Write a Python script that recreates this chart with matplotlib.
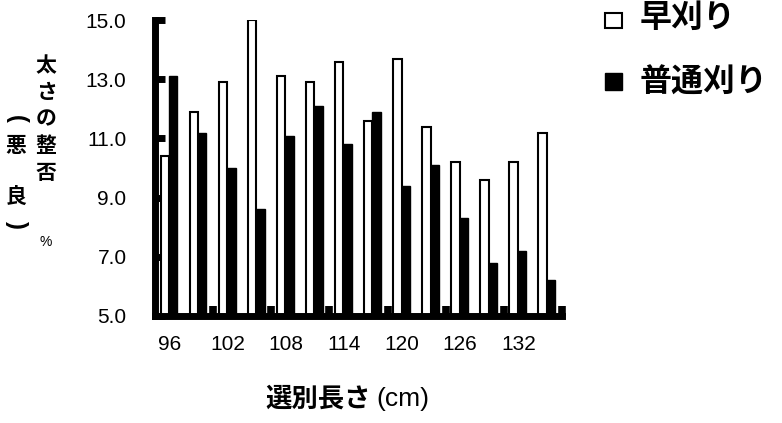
import numpy as np
import matplotlib
matplotlib.use("Agg")
import matplotlib.pyplot as plt
from matplotlib.patches import Rectangle

# Data
lengths = [96, 99, 102, 105, 108, 111, 114, 117, 120, 123, 126, 129, 132, 135]
early = [10.4, 11.9, 12.9, 15.0, 13.1, 12.9, 13.6, 11.6, 13.7, 11.4, 10.2, 9.6, 10.2, 11.2]
normal = [13.1, 11.2, 10.0, 8.6, 11.1, 12.1, 10.8, 11.9, 9.4, 10.1, 8.3, 6.8, 7.2, 6.2]
yticks = [5, 7, 9, 11, 13, 15]

W, H = 782, 423
fig = plt.figure(figsize=(W / 100, H / 100), dpi=100)
# plot area in pixels: x 155..562, y 20.3..315.8
ax = fig.add_axes([155 / W, (H - 315.8) / H, (562 - 155) / W, (315.8 - 20.3) / H])

jp = "Noto Sans CJK JP"
num = "Liberation Sans"

x = np.arange(len(lengths))
bw = 0.29
ax.bar(x - bw / 2 - 0.02, early, bw, color="white", edgecolor="black", linewidth=1.5, zorder=2)
ax.bar(x + bw / 2 - 0.02, normal, bw, color="black", edgecolor="black", linewidth=1.0, zorder=2)

ax.set_xlim(-0.5, len(lengths) - 0.5)
ax.set_ylim(5, 15)

for s in ["top", "right"]:
    ax.spines[s].set_visible(False)
for s in ["left", "bottom"]:
    ax.spines[s].set_linewidth(5)
    ax.spines[s].set_zorder(3)
    ax.spines[s].set_capstyle("projecting")

ax.set_yticks(yticks)
ax.set_yticklabels([f"{v:.1f}" for v in yticks], fontsize=15, family=num)
ax.tick_params(axis="y", direction="in", length=7, width=5, pad=20.5)

ax.set_xticks(x[::2])
ax.set_xticklabels([str(v) for v in lengths[::2]], fontsize=15, family=num)
ax.set_xticks(x[1::2] + 0.5, minor=True)
ax.tick_params(axis="x", which="major", length=0, pad=14)
ax.tick_params(axis="x", which="minor", direction="in", length=7, width=5.5)

# x label
fig.text(265 / W, 1 - 399 / H, "選別長さ", fontsize=19, fontweight="bold", family=jp,
         ha="left", va="center")
fig.text(376 / W, 1 - 399 / H, "(cm)", fontsize=19, family=num, ha="left", va="center")

# y label (vertical stacked)
fig.text(46 / W, 1 - 119 / H, "太\nさ\nの\n整\n否", fontsize=15, fontweight="bold",
         family=jp, ha="center", va="center", linespacing=1.33)
fig.text(16 / W, 1 - 171 / H, "悪\n\n良", fontsize=15, fontweight="bold",
         family=jp, ha="center", va="center", linespacing=1.27)
fig.text(16 / W, 1 - 119 / H, "(", fontsize=17, fontweight="bold", family=num,
         ha="center", va="center", rotation=-90)
fig.text(16 / W, 1 - 225 / H, ")", fontsize=17, fontweight="bold", family=num,
         ha="center", va="center", rotation=-90)
fig.text(46 / W, 1 - 242 / H, "%", fontsize=10, family=num, ha="center", va="center")

# legend
fig.patches.append(Rectangle((605 / W, 1 - 28 / H), 17 / W, 15 / H, transform=fig.transFigure,
                             facecolor="white", edgecolor="black", linewidth=1.5))
fig.text(640 / W, 1 - 18 / H, "早刈り", fontsize=23, fontweight="bold", family=jp,
         ha="left", va="center")
fig.patches.append(Rectangle((605 / W, 1 - 90 / H), 17 / W, 17 / H, transform=fig.transFigure,
                             facecolor="black", edgecolor="black", linewidth=1.0))
fig.text(640 / W, 1 - 83 / H, "普通刈り", fontsize=23, fontweight="bold", family=jp,
         ha="left", va="center")

fig.savefig("out.png", dpi=100)
